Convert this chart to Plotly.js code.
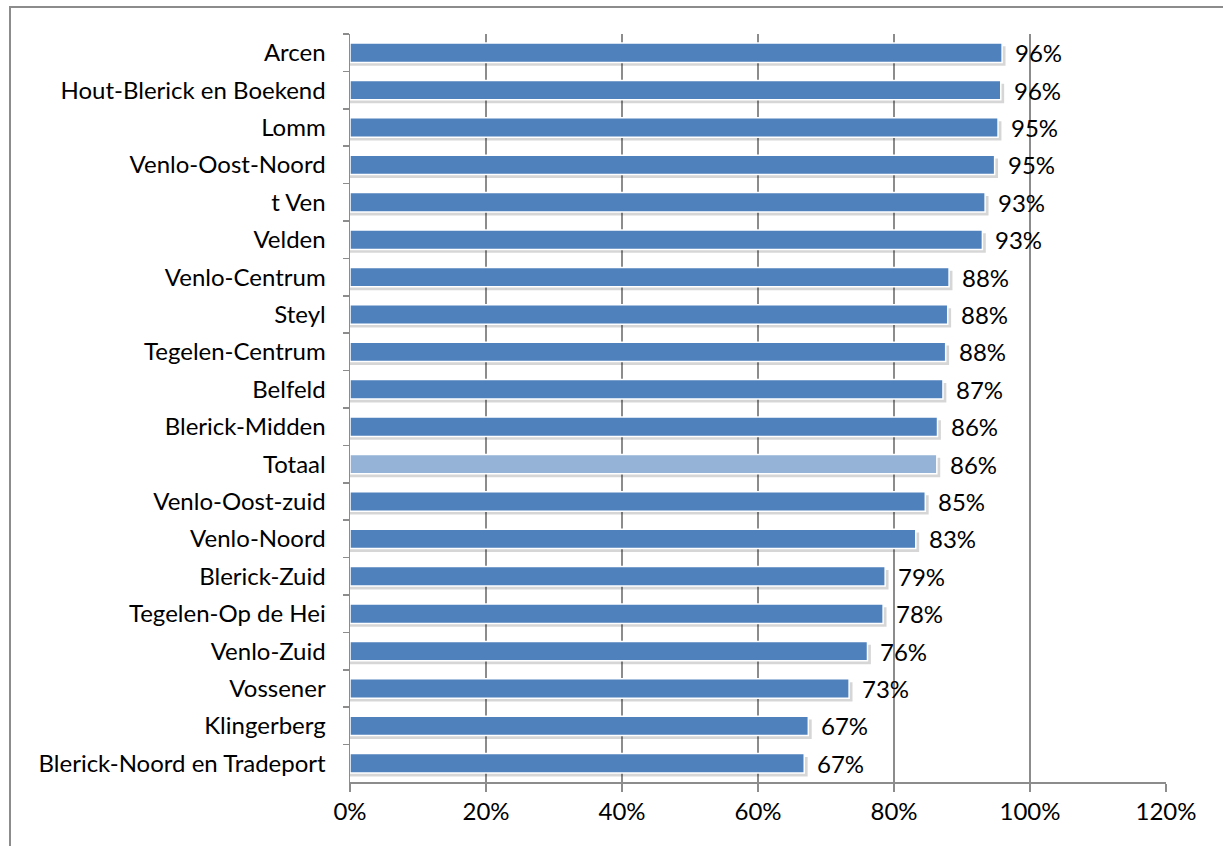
<!DOCTYPE html>
<html><head><meta charset="utf-8">
<script src="https://cdn.plot.ly/plotly-3.0.1.min.js"></script>
<style>
html,body{margin:0;padding:0;background:#fff;}
#frame{position:absolute;left:9px;top:6px;width:1300px;height:900px;border-left:2px solid #8c8c8c;border-top:2px solid #8c8c8c;}
#chart{position:absolute;left:0;top:0;width:1223px;height:846px;}
</style></head>
<body>
<div id="frame"></div>
<div id="chart"></div>
<script>
const categories = ["Arcen","Hout-Blerick en Boekend","Lomm","Venlo-Oost-Noord","t Ven","Velden","Venlo-Centrum","Steyl","Tegelen-Centrum","Belfeld","Blerick-Midden","Totaal","Venlo-Oost-zuid","Venlo-Noord","Blerick-Zuid","Tegelen-Op de Hei","Venlo-Zuid","Vossener","Klingerberg","Blerick-Noord en Tradeport"];
const values = [0.959,0.957,0.953,0.948,0.934,0.930,0.881,0.879,0.876,0.872,0.864,0.863,0.846,0.832,0.787,0.784,0.761,0.734,0.674,0.668];
const xTicks = [0,0.2,0.4,0.6,0.8,1.0,1.2];

const colors = categories.map(c => c === "Totaal" ? "#95B3D7" : "#4F81BD");
const font = "Lato, 'Open Sans', sans-serif";
const FS = 24;

const shadow = {
  type: "bar",
  orientation: "h",
  y: categories,
  x: values.map(v => v + 0.005),
  width: 0.52,
  offset: -0.26 + 0.09,
  marker: {color: "rgba(0,0,0,0.16)", line: {width: 0}},
  hoverinfo: "skip"
};

const trace = {
  type: "bar",
  orientation: "h",
  y: categories,
  x: values,
  width: 0.52,
  offset: -0.26,
  marker: {color: colors, line: {color: "#ffffff", width: 1.5}},
  hoverinfo: "skip"
};

const annotations = categories.map((c, i) => ({
  x: values[i], y: c, xref: "x", yref: "y",
  text: Math.round(values[i]*100) + "%",
  showarrow: false, xanchor: "left", xshift: 11,
  font: {family: font, size: FS, color: "#000"}
}));

const layout = {
  width: 1223, height: 846,
  margin: {l: 350, r: 57, t: 34, b: 64},
  paper_bgcolor: "rgba(0,0,0,0)",
  plot_bgcolor: "rgba(0,0,0,0)",
  showlegend: false,
  barmode: "overlay",
  font: {family: font, size: FS, color: "#000"},
  xaxis: {
    range: [0, 1.2],
    tickvals: xTicks,
    tickformat: ".0%",
    showgrid: true, gridcolor: "#8c8c8c", gridwidth: 1.5,
    zeroline: false,
    showline: true, linecolor: "#8c8c8c", linewidth: 1.5,
    ticks: "outside", ticklen: 8, tickcolor: "#8c8c8c", tickwidth: 1.5,
    tickfont: {family: font, size: FS, color: "#000"},
    fixedrange: true
  },
  yaxis: {
    type: "category",
    autorange: "reversed",
    tickson: "boundaries",
    ticks: "outside", ticklen: 6, tickcolor: "#8c8c8c", tickwidth: 1.5,
    showline: true, linecolor: "#8c8c8c", linewidth: 1.5,
    showgrid: false,
    ticklabelstandoff: 18,
    tickfont: {family: font, size: FS, color: "#000"},
    fixedrange: true
  },
  annotations: annotations
};

Plotly.newPlot("chart", [shadow, trace], layout, {displayModeBar: false, staticPlot: true});
</script>
</body></html>
